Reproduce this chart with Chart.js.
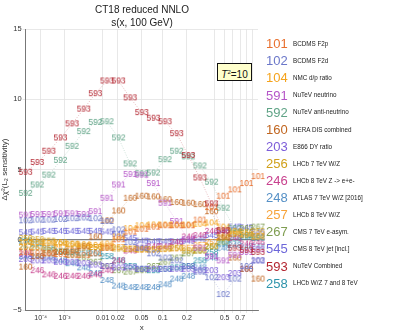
<!DOCTYPE html>
<html>
<head>
<meta charset="utf-8">
<script src="https://cdn.jsdelivr.net/npm/chart.js@4.4.0/dist/chart.umd.min.js"></script>
<style>
  html, body { margin:0; padding:0; background:#fff; }
  #wrap { position:relative; width:398px; height:335px; font-family:"Liberation Sans", Arial, sans-serif; }
  #chart { position:absolute; left:0; top:0; }
  .title { position:absolute; left:26px; width:232px; text-align:center; font-size:10px; color:#222; }
  .leg { position:absolute; left:266px; height:17px; white-space:nowrap; }
  .leg .num { display:inline-block; width:27px; font-size:13px; vertical-align:middle; }
  .leg .nm { font-size:6.3px; color:#222; vertical-align:middle; }
  #tbox { position:absolute; left:217px; top:63px; width:33px; height:16px; background:#ffffcc; border:1px solid #111;
          font-size:10px; line-height:16px; text-align:center; color:#111; }
</style>
</head>
<body>
<div id="wrap">
  <canvas id="chart" width="398" height="335"></canvas>
  <div class="title" style="top:4px">CT18 reduced NNLO</div>
  <div class="title" style="top:17px">s(x, 100 GeV)</div>
  <div id="tbox"><i>T</i><sup style="font-size:6px">2</sup>=10</div>
  <div id="legend"></div>
</div>
<script>
// x grid of the sensitivity curves
const xs = [1e-5, 6.41e-5, 2.476e-4, 7.167e-4, 1.721e-3, 3.626e-3, 6.934e-3, 0.01231, 0.0206, 0.03284,
            0.05033, 0.07457, 0.1074, 0.1508, 0.2073, 0.2796, 0.3707, 0.4843, 0.624, 0.7944, 1.0];

const xTicks = [1e-4, 1e-3, 0.01, 0.02, 0.05, 0.1, 0.2, 0.4, 0.5, 0.6, 0.7, 0.8, 0.9];
const xTickLabels = ['10\u207B\u2074', '10\u207B\u00B3', '0.01', '0.02', '0.05', '0.1', '0.2', '', '0.5', '', '0.7', '', ''];

const expIds = ['101','102','104','591','592','160','203','256','246','248','257','267','545','593','258'];
const expNames = ['BCDMS F2p','BCDMS F2d','NMC d/p ratio','NuTeV neutrino','NuTeV anti-neutrino','HERA DIS combined',
  'E866 DY ratio','LHCb 7 TeV W/Z','LHCb 8 TeV Z -> e+e-','ATLAS 7 TeV W/Z [2016]','LHCb 8 TeV W/Z',
  'CMS 7 TeV e-asym.','CMS 8 TeV jet [incl.]','NuTeV Combined','LHCb W/Z 7 and 8 TeV'];
const expColors = ['#e8702f','#6b77c9','#f5a31c','#b556c8','#5fa386','#c0651f','#7c5cd9','#d0a01a',
  '#c8418e','#5590c6','#f7a43b','#7f9d51','#6d67d9','#b32530','#2e94ab'];

const s101 = [-0.9,-0.95,-1.0,-1.05,-1.1,-1.1,-1.0,-0.6,0.0,0.55,0.75,0.9,1.0,1.0,1.0,1.4,2.3,3.1,3.55,4.0,4.5];
const s102 = [1.35,1.4,1.4,1.45,1.5,1.55,1.5,1.3,0.7,-0.2,-0.6,-1.0,-1.3,-1.5,-1.9,-2.3,-2.7,-3.9,-2.8,-1.9,-1.5];
const s104 = [-0.2,-0.2,-0.25,-0.3,-0.3,-0.35,-0.4,-0.3,0.2,0.8,1.0,1.05,1.05,1.05,1.05,1.1,1.2,0.9,0.6,0.35,0.2];
const s591 = [1.75,1.8,1.8,1.85,1.85,1.8,2.0,2.95,3.9,4.65,4.6,4.0,2.6,1.3,0.0,-0.6,-1.2,-1.5,-1.1,-0.9,-0.7];
const s592 = [3.3,3.9,4.6,5.65,6.65,7.7,8.35,8.4,7.25,5.4,4.7,4.75,5.7,6.3,5.9,5.25,4.1,2.25,0.8,0.3,0.15];
const s160 = [-1.95,-1.2,-1.0,-0.9,-0.8,-0.5,0.2,1.35,2.05,2.95,3.1,3.05,2.85,2.65,2.6,2.5,2.0,0.2,-1.3,-2.1,-2.8];
const s203 = [-1.4,-1.5,-1.5,-1.6,-1.6,-1.7,-1.8,-1.9,-2.0,-2.0,-2.1,-2.1,-2.1,-2.1,-2.1,-2.2,-2.2,-2.7,-2.4,-2.1,-1.5];
const s256 = [0.1,0.0,-0.1,-0.2,-0.35,-0.45,-0.55,-0.6,-0.65,-0.7,-0.7,-0.7,-0.65,-0.6,-0.8,-0.8,-0.5,0.1,0.4,0.5,0.6];
const s246 = [-1.0,-2.2,-2.5,-2.6,-2.6,-2.6,-2.5,-2.2,-1.5,-0.8,-0.6,-0.5,-0.5,-0.2,0.2,0.3,0.6,0.6,0.1,-0.3,-0.2];
const s248 = [-1.2,-1.2,-1.3,-1.5,-1.7,-2.0,-2.4,-2.9,-3.3,-3.4,-3.4,-3.4,-3.2,-2.8,-2.6,-2.0,-1.3,-0.6,-0.4,-0.5,-0.5];
const s257 = [-0.5,-0.55,-0.6,-0.6,-0.65,-0.6,-0.55,-0.5,-0.55,-0.65,-0.75,-0.75,-0.7,-0.65,-0.6,-0.4,-0.2,0.2,0.4,0.3,0.2];
const s267 = [-0.55,-0.6,-0.75,-0.9,-1.1,-1.3,-1.6,-1.9,-2.2,-2.3,-2.2,-1.9,-1.6,-1.3,-1.0,-0.8,-0.5,-0.2,0.5,0.8,0.9];
const s545 = [0.5,0.55,0.6,0.6,0.6,0.6,0.6,0.55,0.4,0.1,-0.1,-0.15,-0.15,-0.15,-0.1,0.05,0.3,0.6,0.9,0.85,0.5];
const s593 = [4.8,5.5,6.3,7.25,8.25,9.3,10.4,11.3,11.3,10.1,9.05,8.65,8.4,7.55,6.0,4.4,2.55,0.65,-0.6,-0.75,-0.9];
const s258 = [-0.1,-0.3,-0.6,-0.85,-0.9,-0.95,-1.0,-1.2,-1.5,-1.9,-2.1,-2.2,-2.1,-2.0,-1.9,-1.5,-0.9,-0.3,0.05,0.2,0.1];

const seriesVals = [s101,s102,s104,s591,s592,s160,s203,s256,s246,s248,s257,s267,s545,s593,s258];

// x axis is stretched as x^0.2
const POW = 0.2;
class PowScale extends Chart.LinearScale {
  determineDataLimits(){ this.min = this.options.min; this.max = this.options.max; }
  buildTicks(){ return xTicks.map(v => ({ value:v })); }
  configure(){
    super.configure();
    this._u0 = Math.pow(this.min, POW);
    this._u1 = Math.pow(this.max, POW);
  }
  getPixelForValue(v){ return this.getPixelForDecimal((Math.pow(v, POW) - this._u0) / (this._u1 - this._u0)); }
  getValueForPixel(p){ const d = this.getDecimalForPixel(p); return Math.pow(this._u0 + d*(this._u1 - this._u0), 1/POW); }
}
PowScale.id = 'pow';
PowScale.defaults = {};
Chart.register(PowScale);

// each point is drawn as its experiment number
function labelImage(txt, color){
  const c = document.createElement('canvas');
  const ctx = c.getContext('2d');
  ctx.font = '8.5px "Liberation Sans", Arial';
  const w = Math.ceil(ctx.measureText(txt).width) + 2;
  c.width = w; c.height = 11;
  ctx.font = '8.5px "Liberation Sans", Arial';
  ctx.fillStyle = color;
  ctx.textAlign = 'center';
  ctx.textBaseline = 'middle';
  ctx.fillText(txt, w/2, 5.5);
  return c;
}

const datasets = expIds.map((id, i) => ({
  label: id,
  data: xs.map((x, k) => ({ x: x, y: seriesVals[i][k] })),
  borderColor: expColors[i] + '70',
  borderWidth: 0.7,
  borderDash: [1, 1.5],
  pointStyle: labelImage(id, expColors[i]),
  pointRadius: 3,
  showLine: true,
  fill: false,
  clip: false
}));
// NuTeV combined drawn on top
datasets.sort((a, b) => (b.label === '593') - (a.label === '593'));

const tickFont = { size: 7.5, family: '"Liberation Sans", Arial' };

new Chart(document.getElementById('chart'), {
  type: 'scatter',
  data: { datasets },
  options: {
    responsive: false,
    devicePixelRatio: 1,
    animation: false,
    events: [],
    layout: { padding: { left: 0, top: 29, right: 140, bottom: 0 } },
    plugins: { legend: { display: false }, tooltip: { enabled: false } },
    scales: {
      x: {
        type: 'pow', min: 1e-5, max: 1,
        afterFit: s => { s.height = 25; },
        grid: { color: '#e2e2e2', lineWidth: 0.8, tickLength: 3 },
        border: { color: '#777', width: 1 },
        ticks: {
          autoSkip: false, maxRotation: 0, padding: 1,
          font: { size: 7, family: '"Liberation Sans", Arial' }, color: '#333',
          callback: (v, idx) => xTickLabels[idx]
        },
        title: { display: true, text: 'x', font: { size: 8, family: '"Liberation Sans", Arial' }, color: '#333', padding: { top: 0, bottom: 2 } }
      },
      y: {
        min: -5, max: 15,
        afterFit: s => { s.width = 25.6; },
        grid: {
          color: c => c.tick && c.tick.value === 0 ? '#808080' : '#e2e2e2',
          lineWidth: c => c.tick && c.tick.value === 0 ? 1.3 : 0.8,
          tickLength: 3
        },
        border: { color: '#777', width: 1 },
        ticks: {
          stepSize: 5, padding: 1, autoSkip: false,
          font: tickFont, color: '#333',
          callback: v => v < 0 ? '\u2212' + Math.abs(v) : String(v)
        },
        title: { display: true, text: '\u0394\u03C7\u00B2(L\u2082 sensitivity)', font: { size: 8, family: '"Liberation Sans", Arial' }, color: '#333', padding: { top: 0, bottom: 0 } }
      }
    }
  }
});

// legend on the right
const leg = document.getElementById('legend');
expIds.forEach((id, i) => {
  const d = document.createElement('div');
  d.className = 'leg';
  d.style.top = (34 + 17.1 * i) + 'px';
  d.innerHTML = '<span class="num" style="color:' + expColors[i] + '">' + id + '</span><span class="nm">' + expNames[i] + '</span>';
  leg.appendChild(d);
});
</script>
</body>
</html>
